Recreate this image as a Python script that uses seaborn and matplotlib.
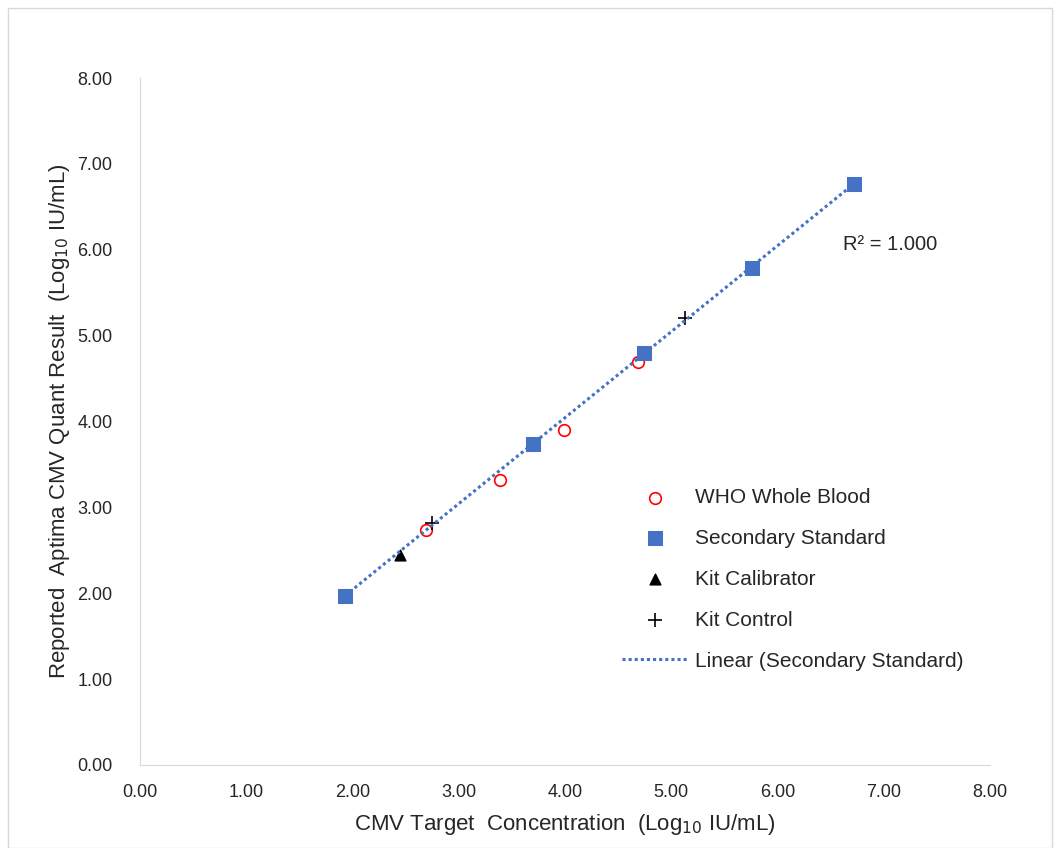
import numpy as np
import pandas as pd
import seaborn as sns
import matplotlib.pyplot as plt
from matplotlib.patches import Rectangle

who_x = [2.69, 3.39, 3.99, 4.69]
who_y = [2.74, 3.32, 3.90, 4.69]
sec_x = [1.93, 3.70, 4.74, 5.76, 6.72]
sec_y = [1.97, 3.74, 4.80, 5.79, 6.77]
cal_x = [2.45]
cal_y = [2.44]
ctl_x = [2.75, 5.13]
ctl_y = [2.82, 5.20]

sns.set_style("white")
plt.rcParams["font.family"] = ["Liberation Sans", "DejaVu Sans"]

fig = plt.figure(figsize=(10.54, 8.48), dpi=100)
ax = fig.add_axes([0.133, 0.098, 0.806, 0.81])
fig.patches.append(Rectangle((0.008, 0.0), 0.99, 0.99, transform=fig.transFigure,
                             fill=False, edgecolor="#d9d9d9", lw=1))

who = pd.DataFrame({"x": who_x, "y": who_y})
sec = pd.DataFrame({"x": sec_x, "y": sec_y})

sns.scatterplot(data=who, x="x", y="y", ax=ax, marker="o", s=70,
                facecolor="white", edgecolor="red", linewidth=1.2, label="WHO Whole Blood")
sns.scatterplot(data=sec, x="x", y="y", ax=ax, marker="s", s=90,
                color="#4472c4", edgecolor="#4472c4", label="Secondary Standard")
ax.scatter(cal_x, cal_y, marker="^", s=60, color="black", label="Kit Calibrator")
ax.scatter(ctl_x, ctl_y, marker="+", s=90, color="black", linewidth=1.2, label="Kit Control")

m, b = np.polyfit(sec_x, sec_y, 1)
lx = np.array([min(sec_x), max(sec_x)])
ax.plot(lx, m * lx + b, color="#4472c4", linestyle=(0, (1, 1)), lw=2.2,
        label="Linear (Secondary Standard)", zorder=1)

ax.text(6.62, 6.0, "R² = 1.000", fontsize=14.5)

ax.set_xlim(0, 8)
ax.set_ylim(0, 8)
ticks = np.arange(0, 9, 1)
ax.set_xticks(ticks)
ax.set_yticks(ticks)
ax.set_xticklabels([f"{t:.2f}" for t in ticks], fontsize=13)
ax.set_yticklabels([f"{t:.2f}" for t in ticks], fontsize=13)
ax.set_xlabel("CMV Target  Concentration  (Log$_{10}$ IU/mL)", fontsize=16, labelpad=8)
ax.set_ylabel("Reported  Aptima CMV Quant Result  (Log$_{10}$ IU/mL)", fontsize=16, labelpad=4)
for s in ["top", "right"]:
    ax.spines[s].set_visible(False)
for s in ["left", "bottom"]:
    ax.spines[s].set_color("#d9d9d9")
ax.tick_params(axis="x", length=0, pad=14)
ax.tick_params(axis="y", length=0, pad=20)

ax.legend(loc="lower left", bbox_to_anchor=(0.545, 0.11), frameon=False, fontsize=15,
          labelspacing=1.05, handlelength=3.2, handletextpad=0.3)

fig.savefig("out.png", dpi=100)
